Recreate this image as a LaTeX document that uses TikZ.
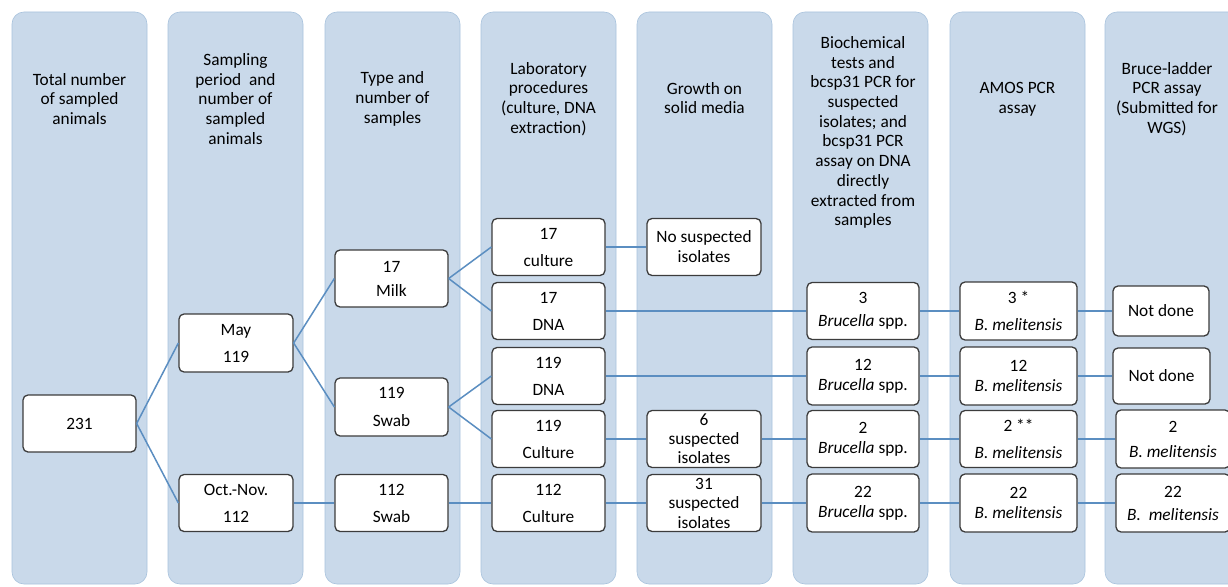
\documentclass[tikz,border=0pt]{standalone}
\usepackage{fontspec}
\setmainfont{Carlito}
\definecolor{colfill}{HTML}{C9D9EA}
\definecolor{colborder}{HTML}{A9C3DD}
\definecolor{linkblue}{HTML}{5B8EC1}
\definecolor{boxborder}{HTML}{3C3C3C}
\begin{document}
\begin{tikzpicture}[x=1pt,y=-1pt,
  col/.style={draw=colborder, fill=colfill, rounded corners=12pt, line width=0.6pt},
  box/.style={draw=boxborder, fill=white, rounded corners=5pt, line width=1.3pt,
    minimum width=113pt, minimum height=57pt, align=center, inner sep=0pt,
    font=\fontsize{17.3}{20}\selectfont},
  hdr/.style={align=center, inner sep=0pt, font=\fontsize{17.3}{19.7}\selectfont},
  link/.style={draw=linkblue, line width=1.5pt}]
\fill[white] (0,0) rectangle (1228,586);
\useasboundingbox (0,0) rectangle (1228,586);
\clip (0,0) rectangle (1228,586);
% columns
\foreach \cx in {12,168,325,481,637,793,950,1105}
  \path[col] (\cx,12) rectangle ++(135,572);
% headers
\node[hdr] (h1) at (79.5,99) {Total number\\of sampled\\animals};
\node[hdr] (h2) at (235.5,99) {Sampling\\period\ \ and\\number of\\sampled\\animals};
\node[hdr] (h3) at (392.5,99) {Type and\\number of\\samples};
\node[hdr] (h4) at (548.5,99) {Laboratory\\procedures\\(culture, DNA\\extraction)};
\node[hdr] (h5) at (704.5,98) {Growth on\\solid media};
\node[hdr] (h6) at (863,132.5) {Biochemical\\tests and\\bcsp31 PCR for\\suspected\\isolates; and\\bcsp31 PCR\\assay on DNA\\directly\\extracted from\\samples};
\node[hdr] (h7) at (1017.5,99) {AMOS PCR\\assay};
\node[hdr] (h8) at (1167,99) {Bruce-ladder\\PCR assay\\(Submitted for\\WGS)};
% column 1-3
\node[box] (n231) at (79.5,423.5) {231};
\node[box, minimum width=114pt, minimum height=58pt] (may) at (236,343) {May\\[7pt]119};
\node[box, minimum width=114pt] (oct) at (236,503) {Oct.-Nov.\\[7pt]112};
\node[box] (milk) at (391.5,278.5) {17\\[4pt]Milk};
\node[box, minimum height=58pt] (swab1) at (391.5,407) {119\\[8pt]Swab};
\node[box] (swab2) at (391.5,503) {112\\[7pt]Swab};
% column 4
\node[box] (cult17) at (548.5,247) {17\\[7pt]culture};
\node[box] (dna17) at (548.5,311) {17\\[7pt]DNA};
\node[box] (dna119) at (548.5,376) {119\\[7pt]DNA};
\node[box] (cult119) at (548.5,439) {119\\[7pt]Culture};
\node[box] (cult112) at (548.5,503) {112\\[7pt]Culture};
% column 5
\node[box, minimum width=114pt] (nosusp) at (704,247) {No suspected\\isolates};
\node[box, minimum width=114pt, font=\fontsize{17.3}{19}\selectfont] (susp6) at (704,439) {6\\suspected\\isolates};
\node[box, minimum width=114pt, font=\fontsize{17.3}{19.5}\selectfont] (susp31) at (704,503) {31\\suspected\\isolates};
% column 6
\node[box, minimum width=112pt] (br3) at (863,311) {3\\[3pt]\textit{Brucella} spp.};
\node[box, minimum width=112pt, minimum height=58pt] (br12) at (863,376) {12\\\textit{Brucella} spp.};
\node[box, minimum width=112pt] (br2) at (863,439) {2\\\textit{Brucella} spp.};
\node[box, minimum width=112pt, minimum height=58pt] (br22) at (863,503) {22\\\textit{Brucella} spp.};
% column 7
\node[box, minimum width=117pt, minimum height=58pt] (m3) at (1018.5,311) {3 *\\[7pt]\textit{B. melitensis}};
\node[box, minimum width=117pt, minimum height=58pt] (m12) at (1018.5,376) {12\\\textit{B. melitensis}};
\node[box, minimum width=117pt] (m2) at (1018.5,439) {2 **\\[7pt]\textit{B. melitensis}};
\node[box, minimum width=117pt, minimum height=58pt] (m22) at (1018.5,503) {22\\\textit{B. melitensis}};
% column 8
\node[box, minimum width=96pt, minimum height=50pt] (nd1) at (1161,311) {Not done};
\node[box, minimum width=97pt, minimum height=56pt] (nd2) at (1161.5,376) {Not done};
\node[box, minimum width=114pt, minimum height=58pt] (bm2) at (1173,439) {2\\[5pt]\textit{B. melitensis}};
\node[box, minimum width=114pt, minimum height=58pt] (bm22) at (1173,503) {22\\[3pt]\textit{B.\ \ melitensis}};
% connectors
\draw[link] (n231.east) -- (may.west);
\draw[link] (n231.east) -- (oct.west);
\draw[link] (may.east) -- (milk.west);
\draw[link] (may.east) -- (swab1.west);
\draw[link] (oct.east) -- (swab2.west);
\draw[link] (milk.east) -- (cult17.west);
\draw[link] (milk.east) -- (dna17.west);
\draw[link] (swab1.east) -- (dna119.west);
\draw[link] (swab1.east) -- (cult119.west);
\draw[link] (swab2.east) -- (cult112.west);
\draw[link] (cult17.east) -- (nosusp.west);
\draw[link] (dna17.east) -- (br3.west);
\draw[link] (dna119.east) -- (br12.west);
\draw[link] (cult119.east) -- (susp6.west);
\draw[link] (susp6.east) -- (br2.west);
\draw[link] (br2.east) -- (m2.west);
\draw[link] (m2.east) -- (bm2.west);
\draw[link] (cult112.east) -- (susp31.west);
\draw[link] (susp31.east) -- (br22.west);
\draw[link] (br22.east) -- (m22.west);
\draw[link] (m22.east) -- (bm22.west);
\draw[link] (br3.east) -- (m3.west);
\draw[link] (m3.east) -- (nd1.west);
\draw[link] (br12.east) -- (m12.west);
\draw[link] (m12.east) -- (nd2.west);
\end{tikzpicture}
\end{document}
